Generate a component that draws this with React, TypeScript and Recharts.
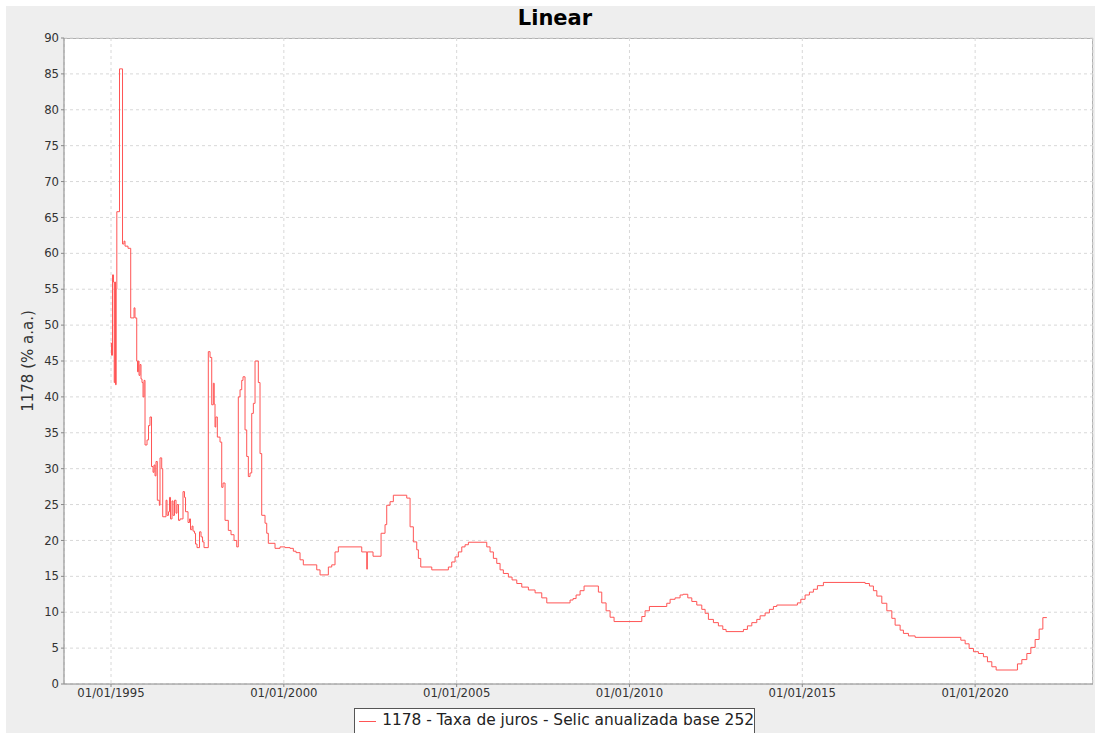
import React from 'react';
import { CartesianGrid, Line, LineChart, XAxis, YAxis } from 'recharts';

// pontos da série 1178 (ano decimal, % a.a.)
const serie: [number, number][] = [
  [1994.986, 47.5], [1995.014, 45.8], [1995.043, 57.0], [1995.072, 56.0],
  [1995.093, 42.0], [1995.11, 56.0], [1995.13, 41.7], [1995.15, 55.0],
  [1995.168, 65.8], [1995.246, 85.7], [1995.333, 61.3], [1995.376, 61.7],
  [1995.405, 61.0], [1995.492, 60.7], [1995.57, 51.0], [1995.666, 52.4],
  [1995.694, 51.0], [1995.744, 45.0], [1995.767, 43.5], [1995.79, 45.0],
  [1995.81, 43.0], [1995.839, 44.5], [1995.868, 42.5], [1995.897, 42.0],
  [1995.926, 40.0], [1995.955, 42.3], [1995.984, 33.3], [1996.042, 34.0],
  [1996.085, 36.0], [1996.128, 37.2], [1996.172, 30.3], [1996.215, 29.5],
  [1996.244, 30.5], [1996.273, 29.0], [1996.302, 31.0], [1996.34, 25.6],
  [1996.398, 24.9], [1996.418, 31.5], [1996.467, 30.0], [1996.496, 23.3],
  [1996.591, 25.6], [1996.62, 23.5], [1996.664, 24.0], [1996.693, 26.0],
  [1996.722, 23.0], [1996.765, 25.5], [1996.794, 23.5], [1996.837, 25.6],
  [1996.881, 23.8], [1996.91, 25.0], [1996.953, 22.8], [1996.997, 23.0],
  [1997.083, 26.8], [1997.127, 26.0], [1997.156, 24.0], [1997.228, 22.5],
  [1997.271, 23.0], [1997.3, 21.5], [1997.344, 22.0], [1997.373, 21.3],
  [1997.416, 21.0], [1997.445, 19.5], [1997.488, 19.0], [1997.561, 21.2],
  [1997.604, 20.5], [1997.648, 19.8], [1997.691, 19.0], [1997.815, 46.3],
  [1997.865, 45.5], [1997.914, 38.9], [1997.96, 41.9], [1997.986, 39.0],
  [1998.009, 35.8], [1998.032, 37.2], [1998.076, 34.4], [1998.154, 33.7],
  [1998.203, 27.4], [1998.241, 28.0], [1998.299, 22.8], [1998.394, 21.4],
  [1998.472, 20.8], [1998.559, 20.0], [1998.637, 19.1], [1998.683, 40.0],
  [1998.733, 41.0], [1998.782, 42.3], [1998.819, 42.8], [1998.877, 35.4],
  [1998.926, 31.7], [1998.973, 28.9], [1999.022, 29.4], [1999.071, 37.7],
  [1999.118, 39.1], [1999.167, 45.0], [1999.262, 42.0], [1999.311, 32.1],
  [1999.36, 23.5], [1999.456, 22.4], [1999.505, 21.0], [1999.551, 19.6],
  [1999.745, 18.9], [1999.89, 19.1], [2000.035, 19.0], [2000.179, 18.9],
  [2000.275, 18.5], [2000.353, 18.3], [2000.469, 17.3], [2000.564, 16.6],
  [2000.952, 15.9], [2001.048, 15.2], [2001.288, 16.3], [2001.386, 16.6],
  [2001.481, 18.4], [2001.577, 19.1], [2002.254, 18.4], [2002.399, 16.0],
  [2002.416, 18.4], [2002.581, 17.8], [2002.813, 21.0], [2002.928, 22.2],
  [2002.977, 24.9], [2003.073, 25.4], [2003.168, 26.3], [2003.556, 25.9],
  [2003.652, 21.9], [2003.747, 19.8], [2003.845, 18.7], [2003.892, 17.5],
  [2003.961, 16.3], [2004.28, 15.9], [2004.76, 16.3], [2004.858, 17.0],
  [2004.954, 17.7], [2005.049, 18.4], [2005.148, 19.1], [2005.243, 19.4],
  [2005.339, 19.75], [2005.871, 19.1], [2005.966, 18.4], [2006.062, 17.5],
  [2006.16, 16.8], [2006.256, 15.9], [2006.351, 15.4], [2006.496, 14.9],
  [2006.603, 14.5], [2006.739, 14.0], [2006.884, 13.5], [2007.075, 13.1],
  [2007.269, 12.7], [2007.462, 12.0], [2007.607, 11.3], [2008.281, 11.7],
  [2008.368, 11.9], [2008.455, 12.4], [2008.571, 13.0], [2008.686, 13.65],
  [2009.1, 12.8], [2009.198, 11.3], [2009.323, 10.2], [2009.439, 9.3],
  [2009.554, 8.7], [2010.356, 9.4], [2010.451, 10.2], [2010.576, 10.8],
  [2011.079, 11.25], [2011.175, 11.8], [2011.319, 12.0], [2011.464, 12.4],
  [2011.551, 12.5], [2011.687, 12.0], [2011.803, 11.5], [2011.947, 11.0],
  [2012.092, 10.4], [2012.188, 9.85], [2012.283, 9.0], [2012.428, 8.55],
  [2012.572, 8.1], [2012.7, 7.6], [2012.795, 7.3], [2013.296, 7.6],
  [2013.412, 8.1], [2013.539, 8.55], [2013.683, 9.0], [2013.779, 9.5],
  [2013.924, 9.9], [2014.048, 10.4], [2014.164, 10.8], [2014.262, 11.0],
  [2014.858, 11.3], [2014.957, 11.8], [2015.081, 12.4], [2015.205, 12.8],
  [2015.321, 13.2], [2015.437, 13.7], [2015.61, 14.15], [2016.817, 14.0],
  [2016.942, 13.65], [2017.057, 13.0], [2017.156, 12.25], [2017.3, 11.25],
  [2017.445, 10.2], [2017.59, 9.15], [2017.685, 8.2], [2017.83, 7.5],
  [2017.925, 7.05], [2018.07, 6.7], [2018.264, 6.5], [2019.586, 6.1],
  [2019.711, 5.6], [2019.826, 4.95], [2019.951, 4.5], [2020.095, 4.25],
  [2020.24, 3.8], [2020.356, 3.1], [2020.483, 2.4], [2020.608, 1.95],
  [2021.224, 2.8], [2021.351, 3.4], [2021.496, 4.25], [2021.612, 5.1],
  [2021.736, 6.2], [2021.852, 7.65], [2021.959, 9.25], [2022.075, 9.25],
];

const xTicks = [1995, 2000, 2005, 2010, 2015, 2020];
const yTicks = [0, 5, 10, 15, 20, 25, 30, 35, 40, 45, 50, 55, 60, 65, 70, 75, 80, 85, 90];

const data = serie.map(([t, v]) => ({ t, v }));

const font = '"DejaVu Sans", sans-serif';

export default function App() {
  return (
    <div
      style={{
        position: 'absolute',
        left: 0,
        top: 0,
        width: 1095,
        height: 733,
        background: '#fff',
        overflow: 'hidden',
        fontFamily: font,
      }}
    >
      <div
        style={{
          position: 'absolute',
          left: 6,
          top: 6,
          width: 1089,
          height: 727,
          background: '#eeeeee',
        }}
      />
      <div
        style={{
          position: 'absolute',
          left: 0,
          top: 6,
          width: 1110,
          textAlign: 'center',
          fontSize: 21,
          fontWeight: 'bold',
          color: '#000',
        }}
      >
        Linear
      </div>
      <div
        style={{
          position: 'absolute',
          left: 64,
          top: 38,
          width: 1029,
          height: 646,
          background: '#fff',
          boxSizing: 'border-box',
          borderTop: '1px solid #b0b0b0',
          borderRight: '1px solid #b0b0b0',
        }}
      />
      <div
        style={{
          position: 'absolute',
          left: 28,
          top: 361,
          transform: 'translate(-50%, -50%) rotate(-90deg)',
          fontSize: 15,
          whiteSpace: 'nowrap',
          color: '#333',
        }}
      >
        1178 (% a.a.)
      </div>
      <div style={{ position: 'absolute', left: 0, top: 0 }}>
        <LineChart
          width={1095}
          height={733}
          data={data}
          margin={{ top: 38, right: 2, bottom: 19, left: 14 }}
        >
          <CartesianGrid stroke="#d8d8d8" strokeDasharray="3 3" strokeWidth={1} />
          <XAxis
            type="number"
            dataKey="t"
            domain={[1993.64, 2023.41]}
            ticks={xTicks}
            allowDataOverflow
            tickFormatter={(v) => `01/01/${v}`}
            height={30}
            tickSize={3}
            tickMargin={2}
            stroke="#888888"
            tick={{ fill: '#333', fontSize: 11.7, fontFamily: font }}
          />
          <YAxis
            type="number"
            domain={[0, 90]}
            ticks={yTicks}
            allowDataOverflow
            width={50}
            tickSize={3}
            tickMargin={2}
            stroke="#888888"
            tick={{ fill: '#333', fontSize: 11.7, fontFamily: font }}
          />
          <Line
            type="stepAfter"
            dataKey="v"
            stroke="#ff5555"
            strokeWidth={1}
            dot={false}
            isAnimationActive={false}
          />
        </LineChart>
      </div>
      <div
        style={{
          position: 'absolute',
          left: 354,
          top: 708,
          width: 401,
          height: 30,
          boxSizing: 'border-box',
          border: '1px solid #555',
          background: '#fff',
          display: 'flex',
          alignItems: 'flex-start',
          paddingTop: 2,
          fontSize: 15.4,
          color: '#222',
          whiteSpace: 'nowrap',
        }}
      >
        <span
          style={{
            display: 'inline-block',
            width: 18,
            height: 1,
            background: '#ff5555',
            margin: '10px 6px 0 4px',
          }}
        />
        1178 - Taxa de juros - Selic anualizada base 252
      </div>
    </div>
  );
}
